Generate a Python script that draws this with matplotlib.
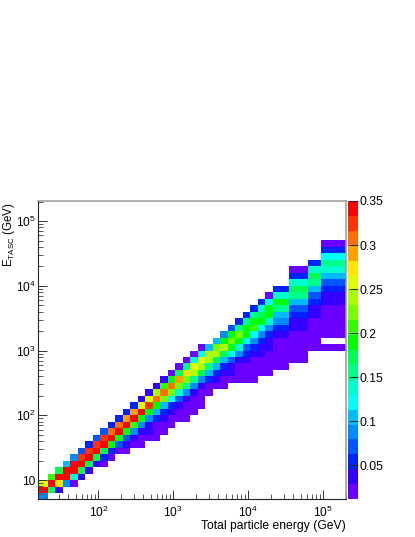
# -*- coding: utf-8 -*-
"""E_TASC against total particle energy, 2D histogram with a 20 level rainbow palette."""
import matplotlib
matplotlib.use('Agg')
import matplotlib.pyplot as plt
import numpy as np
from matplotlib.colors import BoundaryNorm, ListedColormap

plt.rcParams['font.family'] = ['Liberation Sans', 'DejaVu Sans']
plt.rcParams['mathtext.fontset'] = 'custom'
plt.rcParams['mathtext.rm'] = 'Liberation Sans'
plt.rcParams['mathtext.default'] = 'regular'

# bin edges, log10(GeV)
x_log_edges = [1.19, 1.323, 1.423, 1.523, 1.623, 1.723, 1.823, 1.923, 2.023, 2.123, 2.223, 2.323,
               2.423, 2.523, 2.623, 2.723, 2.823, 2.923, 3.023, 3.123, 3.223, 3.323, 3.423, 3.523,
               3.623, 3.723, 3.823, 3.923, 4.023, 4.123, 4.223, 4.323, 4.543, 4.792, 4.969, 5.303]
y_log_edges = [0.7, 0.8, 0.9, 1.0, 1.1, 1.2, 1.3, 1.4, 1.5, 1.6, 1.7, 1.8, 1.9, 2.0, 2.1, 2.2, 2.3,
               2.4, 2.5, 2.6, 2.7, 2.8, 2.9, 3.0, 3.1, 3.2, 3.3, 3.4, 3.5, 3.6, 3.7, 3.8, 3.9, 4.0,
               4.1, 4.2, 4.3, 4.4, 4.5, 4.6, 4.7]

# first filled column of each row, then the contents in percent, left to right
row_start = [0, 0, 0, 1, 2, 3, 4, 5, 6, 7, 8, 9, 10, 11, 12, 13, 14, 15, 16, 17,
             18, 19, 20, 21, 23, 24, 25, 26, 27, 28, 29, 30, 31, 32, 32, 32, 33, 34, 34, 34]
row_values = [
    [9],
    [34, 17, 4],
    [26, 34, 27, 9, 2],
    [21, 34, 34, 14, 4],
    [17, 34, 34, 17, 4],
    [11, 34, 34, 17, 4, 2],
    [9, 32, 34, 17, 5, 2],
    [7, 32, 34, 17, 5, 2, 2],
    [5, 32, 34, 19, 7, 4, 2, 2],
    [7, 32, 34, 19, 7, 4, 2, 2, 2],
    [7, 31, 34, 19, 9, 4, 4, 2, 2],
    [5, 31, 34, 21, 9, 4, 2, 2, 2],
    [5, 29, 34, 19, 9, 5, 4, 2, 2, 2],
    [5, 29, 34, 19, 11, 5, 4, 2, 2, 2],
    [5, 26, 32, 19, 11, 5, 4, 2, 2, 2],
    [4, 26, 31, 22, 12, 7, 4, 2, 2],
    [4, 24, 31, 22, 14, 9, 4, 2, 2],
    [4, 21, 31, 22, 16, 9, 4, 2, 2, 2],
    [4, 19, 29, 22, 16, 9, 5, 4, 2, 2, 2, 2, 2],
    [2, 17, 27, 24, 17, 11, 5, 4, 4, 2, 2, 2, 2, 2],
    [2, 16, 26, 24, 16, 11, 5, 4, 2, 2, 2, 2, 2, 2],
    [2, 14, 26, 24, 17, 11, 7, 4, 4, 2, 2, 2, 2, 2],
    [2, 12, 24, 24, 17, 12, 9, 5, 4, 4, 2, 2, 2],
    [2, 11, 22, 24, 19, 14, 7, 5, 4, 4, 2, 2, 2, 2],
    [11, 19, 22, 19, 12, 9, 5, 4, 2, 2, 2],
    [9, 19, 22, 19, 12, 9, 5, 4, 2, 2, 2],
    [7, 16, 19, 21, 12, 9, 5, 4, 2, 2],
    [5, 16, 19, 19, 14, 9, 4, 2, 2],
    [5, 16, 17, 19, 11, 5, 4, 2],
    [5, 14, 19, 16, 7, 4, 2],
    [5, 12, 19, 11, 5, 4],
    [2, 14, 16, 7, 4],
    [5, 17, 11, 5],
    [14, 16, 7],
    [5, 17, 11],
    [2, 14, 14],
    [5, 16],
    [12],
    [5],
    [2],
]

z_min = 0.0114
z_max = 0.35
palette = ['#6a00ff', '#3300ff', '#0022ff', '#0055ff', '#008cff', '#00bbff', '#00ffff', '#00ffcc',
           '#00ff88', '#00ff55', '#00ff00', '#33ff00', '#77ff00', '#aaff00', '#ddff00', '#ffe600',
           '#ffa000', '#ff7000', '#ff3300', '#ff0000']

x_major = [1e2, 1e3, 1e4, 1e5]
x_labels = ['$10^{2}$', '$10^{3}$', '$10^{4}$', '$10^{5}$']
y_major = [1e1, 1e2, 1e3, 1e4, 1e5]
y_labels = ['10', '$10^{2}$', '$10^{3}$', '$10^{4}$', '$10^{5}$']
z_ticks = [0.05, 0.1, 0.15, 0.2, 0.25, 0.3, 0.35]
z_labels = ['0.05', '0.1', '0.15', '0.2', '0.25', '0.3', '0.35']

# fill the histogram, empty bins stay masked (white)
hist = np.full((len(y_log_edges) - 1, len(x_log_edges) - 1), np.nan)
for j, (start, vals) in enumerate(zip(row_start, row_values)):
    for i, v in enumerate(vals):
        hist[j, start + i] = v / 100.0
hist = np.ma.masked_invalid(hist)

W, H = 415, 537
fig = plt.figure(figsize=(W / 100, H / 100), dpi=100)
ax = fig.add_axes([38 / W, 1 - 499 / H, 308 / W, 298 / H])

cmap = ListedColormap(palette)
norm = BoundaryNorm(np.linspace(z_min, z_max, len(palette) + 1), len(palette))
mesh = ax.pcolormesh(10 ** np.array(x_log_edges), 10 ** np.array(y_log_edges), hist,
                     cmap=cmap, norm=norm, linewidth=0, antialiased=False)

ax.set_xscale('log')
ax.set_yscale('log')
ax.set_xlim(10 ** 1.196, 10 ** 5.303)
ax.set_ylim(10 ** 0.707, 10 ** 5.31)

ax.set_xticks(x_major, x_labels)
ax.set_yticks(y_major, y_labels)
subs = np.arange(2, 10)
ax.xaxis.set_minor_locator(matplotlib.ticker.LogLocator(base=10, subs=subs, numticks=20))
ax.yaxis.set_minor_locator(matplotlib.ticker.LogLocator(base=10, subs=subs, numticks=20))
ax.xaxis.set_minor_formatter(matplotlib.ticker.NullFormatter())
ax.yaxis.set_minor_formatter(matplotlib.ticker.NullFormatter())
ax.tick_params(which='major', direction='in', length=6.5, width=0.7, color='#333333',
               labelsize=8.6)
ax.tick_params(axis='y', which='major', pad=1.8)
ax.tick_params(axis='x', which='major', pad=4.5)
ax.tick_params(which='minor', direction='in', length=3.3, width=0.7, color='#555555')

# ROOT style frame: black on the axis sides, grey on the others
for side in ('left', 'bottom'):
    ax.spines[side].set_linewidth(0.8)
    ax.spines[side].set_color('#222222')
for side in ('top', 'right'):
    ax.spines[side].set_linewidth(1.1)
    ax.spines[side].set_color('#999999')

fig.text(346 / W, 1 - 526 / H, 'Total particle energy (GeV)', ha='right', va='center', fontsize=8.7)
fig.text(9 / W, 1 - 202 / H, '$E_{TASC}$ (GeV)', ha='center', va='top', rotation=90, fontsize=8.3)

# palette bar
cax = fig.add_axes([348 / W, 1 - 499 / H, 9.5 / W, 298 / H])
cb = fig.colorbar(mesh, cax=cax, spacing='proportional', ticks=z_ticks)
cb.ax.set_yticklabels(z_labels)
cb.outline.set_visible(False)
cb.ax.tick_params(which='major', direction='in', length=6.5, width=0.7, color='#222222',
                  labelsize=8.7, pad=1.5)
cb.ax.minorticks_off()

fig.savefig('out.png', dpi=100)
